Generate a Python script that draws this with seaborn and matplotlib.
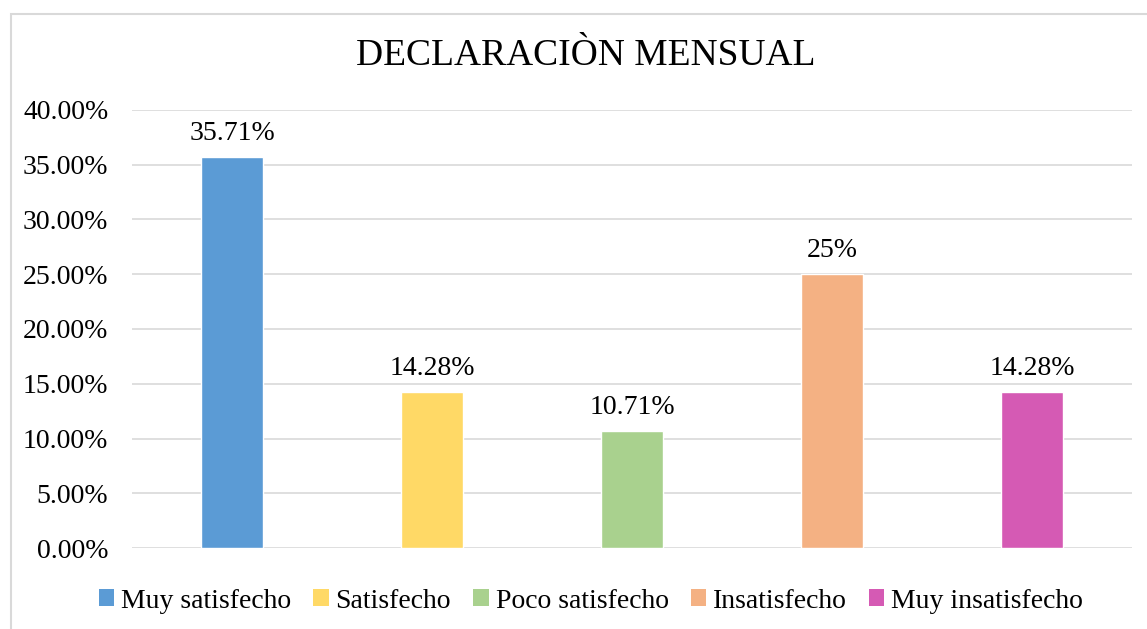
import seaborn as sns
import matplotlib.pyplot as plt
import pandas as pd
from matplotlib.patches import Patch, Rectangle

categories = ["Muy satisfecho", "Satisfecho", "Poco satisfecho", "Insatisfecho", "Muy insatisfecho"]
values = [35.71, 14.28, 10.71, 25.0, 14.28]
value_labels = ["35.71%", "14.28%", "10.71%", "25%", "14.28%"]
colors = ["#5B9BD5", "#FFD966", "#A9D18E", "#F4B183", "#D55AB4"]
yticks = [0, 5, 10, 15, 20, 25, 30, 35, 40]


def main():
    sns.set_theme(style="white")
    plt.rcParams['font.family'] = ['Liberation Serif', 'DejaVu Serif']
    plt.rcParams['text.color'] = "#000000"
    plt.rcParams['ytick.color'] = "#000000"

    df = pd.DataFrame({"cat": categories, "val": values})

    fig = plt.figure(figsize=(11.47, 6.29), dpi=100)
    ax = fig.add_axes([132 / 1147, 1 - 548 / 629, 1000 / 1147, 438 / 629])

    sns.barplot(data=df, x="cat", y="val", hue="cat", palette=colors,
                width=0.31, legend=False, ax=ax, saturation=1)

    for cont, lab in zip(ax.containers, value_labels):
        ax.bar_label(cont, labels=[lab], padding=8, fontsize=20, color="#000000")

    ax.set_ylim(0, 40)
    ax.set_xlim(-0.5, 4.5)
    ax.set_yticks(yticks)
    ax.set_yticklabels([f"{t:.2f}%" for t in yticks], fontsize=20)
    ax.set_xticks([])
    ax.set_xlabel("")
    ax.set_ylabel("")
    ax.tick_params(axis="y", length=0, pad=17, labelcolor="#000000")
    ax.yaxis.grid(True, color="#D9D9D9", linewidth=1.2)
    ax.set_axisbelow(True)
    for s in ax.spines.values():
        s.set_visible(False)

    fig.text(586 / 1147, 1 - 56 / 629, "DECLARACIÒN MENSUAL", ha="center", va="center",
             fontsize=27, color="#000000")

    handles = [Patch(facecolor=c, edgecolor="none") for c in colors]
    fig.legend(handles, categories, loc="center", bbox_to_anchor=(591 / 1147, 1 - 601 / 629),
               ncol=5, frameon=False, fontsize=20, handlelength=0.55, handleheight=0.55,
               handletextpad=0.25, columnspacing=0.8, labelcolor="#000000")

    # light chart border (left and top visible in the reference)
    fig.patches.append(Rectangle((11 / 1147, -0.05), 1.2, 1 - 13.5 / 629 + 0.05,
                                 transform=fig.transFigure, fill=False,
                                 edgecolor="#D9D9D9", linewidth=1.5))

    fig.savefig("out.png", dpi=100)


if __name__ == "__main__":
    main()
